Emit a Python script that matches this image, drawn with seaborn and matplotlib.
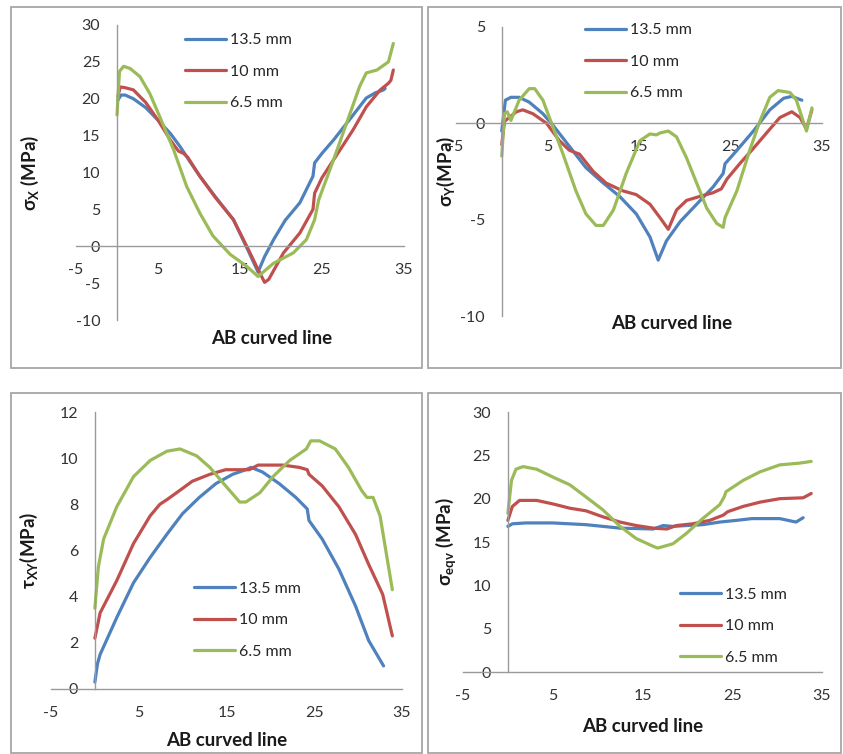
import matplotlib
matplotlib.use('Agg')
import matplotlib.pyplot as plt
import matplotlib.patches as patches
import pandas as pd
import seaborn as sns

sns.set_style('white')
plt.rcParams['font.family'] = ['Lato', 'DejaVu Sans']
plt.rcParams['mathtext.fontset'] = 'custom'
plt.rcParams['mathtext.rm'] = 'Lato'
plt.rcParams['mathtext.bf'] = 'Lato:bold'
plt.rcParams['mathtext.it'] = 'Lato:italic'
plt.rcParams['axes.unicode_minus'] = False

series_names = ['13.5 mm', '10 mm', '6.5 mm']
series_colors = ['#4F81BD', '#C0504D', '#9BBB59']
x_ticks = [-5, 5, 15, 25, 35]

# ---- panel 1: sigma X ----
sx_blue_x = [0.1, 0.5, 1.0, 2.0, 3.5, 5.0, 6.5, 7.7, 9.0, 10.1, 12.0, 14.2, 16.0, 17.2, 18.0,
             19.1, 20.5, 22.3, 23.9, 24.1, 25.0, 26.4, 28.8, 30.4, 31.5, 32.5, 32.7]
sx_blue_y = [19.8, 20.5, 20.5, 20.0, 18.8, 17.1, 15.3, 13.5, 11.3, 9.5, 6.7, 3.6, -0.6, -3.5, -1.4,
             0.9, 3.5, 5.9, 9.5, 11.3, 12.6, 14.4, 17.8, 20.1, 20.8, 21.2, 21.4]
sx_red_x = [0.1, 0.4, 1.0, 2.0, 3.5, 5.0, 6.5, 7.5, 8.1, 8.6, 10.1, 12.0, 14.2, 16.0, 17.0, 18.0,
            18.5, 20.3, 22.3, 23.9, 24.1, 25.0, 26.4, 28.8, 30.4, 32.1, 33.1, 33.4, 33.7]
sx_red_y = [20.3, 21.6, 21.5, 21.2, 19.5, 17.1, 14.4, 12.9, 12.6, 12.1, 9.5, 6.6, 3.6, -0.4, -2.7, -4.9,
            -4.5, -0.9, 1.8, 5.0, 7.2, 9.3, 11.7, 15.8, 18.9, 21.2, 22.1, 22.5, 23.9]
sx_green_x = [0.0, 0.3, 0.8, 1.6, 2.8, 4.0, 5.2, 6.9, 8.5, 10.1, 11.7, 13.8, 15.8, 17.2, 19.1,
              21.5, 23.1, 24.1, 24.6, 26.4, 28.0, 29.6, 30.4, 31.7, 33.1, 33.7]
sx_green_y = [17.8, 23.7, 24.4, 24.1, 23.0, 20.7, 17.6, 13.1, 8.1, 4.5, 1.4, -1.1, -2.7, -4.1, -2.3,
              -0.9, 0.9, 3.6, 6.3, 11.7, 16.7, 21.7, 23.5, 23.9, 25.0, 27.5]

# ---- panel 2: sigma Y ----
sy_blue_x = [0.0, 0.4, 1.0, 1.9, 3.0, 4.5, 5.6, 7.4, 9.2, 11.1, 12.9, 14.7, 16.2, 17.1, 18.0, 19.5,
             21.3, 23.1, 24.2, 24.4, 25.7, 27.5, 29.3, 30.8, 31.7, 32.8]
sy_blue_y = [-0.4, 1.2, 1.35, 1.35, 1.1, 0.5, -0.1, -1.2, -2.3, -3.1, -3.8, -4.7, -5.9, -7.1, -6.1, -5.1,
             -4.2, -3.3, -2.6, -2.1, -1.4, -0.4, 0.7, 1.3, 1.4, 1.2]
sy_red_x = [0.0, 0.3, 0.8, 1.6, 2.3, 3.4, 4.9, 6.3, 7.4, 8.5, 10.0, 11.4, 13.2, 14.7, 16.2, 17.3,
            18.2, 19.1, 20.2, 21.6, 23.1, 24.0, 24.6, 26.0, 27.5, 29.3, 30.4, 31.7, 32.6, 33.3, 33.9]
sy_red_y = [-1.1, 0.1, 0.3, 0.6, 0.7, 0.5, 0.0, -0.9, -1.4, -1.6, -2.5, -3.1, -3.5, -3.7, -4.2, -4.9,
            -5.5, -4.5, -4.0, -3.8, -3.6, -3.4, -2.9, -2.1, -1.3, -0.3, 0.3, 0.6, 0.3, -0.3, 0.7]
sy_green_x = [0.0, 0.3, 0.6, 1.0, 1.9, 3.0, 3.6, 4.5, 5.6, 6.7, 8.1, 9.2, 10.3, 11.1, 12.2, 13.6,
              15.1, 16.2, 16.9, 17.3, 18.2, 19.1, 20.2, 21.3, 22.4, 23.5, 24.2, 24.4, 25.7, 27.1,
              28.2, 29.3, 30.2, 31.5, 32.2, 33.3, 33.9]
sy_green_y = [-1.7, 0.5, 0.6, 0.15, 1.2, 1.8, 1.8, 1.2, -0.2, -1.6, -3.5, -4.7, -5.3, -5.3, -4.5, -2.6,
              -0.9, -0.55, -0.6, -0.5, -0.4, -0.7, -1.8, -3.1, -4.4, -5.2, -5.4, -4.9, -3.5, -1.4,
              0.1, 1.35, 1.7, 1.6, 1.2, -0.4, 0.8]

# ---- panel 3: tau XY ----
txy_blue_x = [0.0, 0.3, 0.6, 2.5, 4.4, 6.3, 8.2, 10.0, 11.9, 13.8, 15.7, 17.2, 17.8, 19.1, 21.0,
              22.9, 24.2, 24.4, 25.9, 27.8, 29.7, 31.2, 32.9]
txy_blue_y = [0.3, 1.1, 1.5, 3.1, 4.6, 5.7, 6.7, 7.6, 8.3, 8.9, 9.3, 9.5, 9.6, 9.4, 8.9,
              8.3, 7.8, 7.3, 6.5, 5.2, 3.6, 2.1, 1.0]
txy_red_x = [0.0, 0.6, 2.5, 4.4, 6.3, 7.4, 8.2, 9.3, 11.1, 13.1, 14.9, 17.6, 18.6, 21.4, 23.3,
             24.2, 24.4, 25.9, 27.8, 29.7, 31.2, 32.8, 33.9]
txy_red_y = [2.2, 3.3, 4.7, 6.3, 7.5, 8.0, 8.2, 8.5, 9.0, 9.3, 9.5, 9.5, 9.7, 9.7, 9.6,
             9.5, 9.3, 8.8, 7.9, 6.7, 5.4, 4.1, 2.3]
txy_green_x = [0.0, 0.4, 1.0, 2.5, 4.4, 6.3, 8.2, 9.7, 11.6, 13.1, 14.9, 16.5, 17.2, 18.8, 20.3,
               22.2, 24.1, 24.6, 25.6, 27.4, 28.9, 30.4, 31.0, 31.7, 32.5, 33.2, 33.9]
txy_green_y = [3.5, 5.3, 6.5, 7.9, 9.2, 9.9, 10.3, 10.4, 10.1, 9.6, 8.8, 8.1, 8.1, 8.5, 9.2,
               9.9, 10.4, 10.75, 10.75, 10.4, 9.6, 8.6, 8.3, 8.3, 7.5, 5.9, 4.3]

# ---- panel 4: sigma eqv ----
seqv_blue_x = [0.0, 0.5, 2.0, 5.0, 8.7, 12.5, 16.2, 17.3, 18.4, 19.9, 21.7, 23.6, 25.5, 27.2,
               30.3, 32.1, 32.9]
seqv_blue_y = [16.8, 17.1, 17.2, 17.2, 17.0, 16.6, 16.5, 16.9, 16.8, 16.9, 17.0, 17.3, 17.5, 17.7,
               17.7, 17.3, 17.8]
seqv_red_x = [0.0, 0.5, 1.3, 3.2, 5.0, 6.9, 8.7, 10.6, 12.5, 14.3, 16.2, 17.7, 18.8, 20.6, 22.5,
              24.0, 24.5, 26.2, 28.1, 30.3, 32.9, 33.8]
seqv_red_y = [17.5, 19.1, 19.8, 19.8, 19.4, 18.9, 18.6, 17.9, 17.3, 16.9, 16.6, 16.5, 16.9, 17.1, 17.5,
              18.1, 18.5, 19.1, 19.6, 20.0, 20.1, 20.6]
seqv_green_x = [0.0, 0.4, 0.9, 1.7, 3.2, 5.0, 6.9, 8.7, 10.6, 12.5, 14.3, 16.2, 16.7, 18.4, 19.9,
                21.7, 23.6, 24.1, 24.3, 26.2, 28.1, 30.3, 32.5, 33.8]
seqv_green_y = [18.3, 22.1, 23.4, 23.7, 23.4, 22.5, 21.6, 20.2, 18.7, 16.8, 15.4, 14.5, 14.3, 14.8, 16.0,
                17.7, 19.3, 20.2, 20.8, 22.1, 23.1, 23.9, 24.1, 24.3]

W, H = 843, 754
fig = plt.figure(figsize=(W / 100, H / 100), dpi=100)


def fx(px):
    return px / W


def fy(py):
    return 1 - py / H


# panel frames (pixel boxes: left, top, right, bottom)
frames = [(11, 7, 422, 368), (428, 7, 841, 368), (11, 393, 422, 753), (428, 393, 841, 753)]
for l, t, r, b in frames:
    fig.add_artist(patches.Rectangle((fx(l), fy(b)), fx(r - l), (b - t) / H, transform=fig.transFigure,
                                     fill=False, edgecolor='#a6a6a6', linewidth=1.3))

panels = [
    dict(area=(76, 25, 404, 320), ylim=(-10, 30), yticks=range(-10, 31, 5),
         xs=[sx_blue_x, sx_red_x, sx_green_x], ys=[sx_blue_y, sx_red_y, sx_green_y],
         ylabel='σ$_{\\mathbf{X}}$ (MPa)', ylab=-0.107, xlab=(0.598, -0.034), leg=(0.332, 0.972)),
    dict(area=(456, 27, 822, 316), ylim=(-10, 5), yticks=range(-10, 6, 5),
         xs=[sy_blue_x, sy_red_x, sy_green_x], ys=[sy_blue_y, sy_red_y, sy_green_y],
         ylabel='σ$_{\\mathbf{Y}}$(MPa)', ylab=0.003, xlab=(0.59, 0.003), leg=(0.352, 1.013)),
    dict(area=(51, 412, 402, 689), ylim=(0, 12), yticks=range(0, 13, 2),
         xs=[txy_blue_x, txy_red_x, txy_green_x], ys=[txy_blue_y, txy_red_y, txy_green_y],
         ylabel='τ$_{\\mathbf{XY}}$(MPa)', ylab=-0.031, xlab=(0.50, -0.155), leg=(0.407, 0.388)),
    dict(area=(463, 412, 822, 672), ylim=(0, 30), yticks=range(0, 31, 5),
         xs=[seqv_blue_x, seqv_red_x, seqv_green_x], ys=[seqv_blue_y, seqv_red_y, seqv_green_y],
         ylabel='σ$_{\\mathbf{eqv}}$ (MPa)', ylab=-0.014, xlab=(0.50, -0.177), leg=(0.604, 0.325)),
]

for p in panels:
    l, t, r, b = p['area']
    ax = fig.add_axes([fx(l), fy(b), fx(r - l), (b - t) / H])
    ax.set_facecolor('none')

    frames_df = []
    for name, xv, yv in zip(series_names, p['xs'], p['ys']):
        frames_df.append(pd.DataFrame({'x': xv, 'y': yv, 'series': name}))
    df = pd.concat(frames_df, ignore_index=True)
    sns.lineplot(data=df, x='x', y='y', hue='series', hue_order=series_names,
                 palette=series_colors, sort=False, estimator=None, linewidth=2.3,
                 legend=False, ax=ax)

    ax.set_xlim(-5, 35)
    ax.set_ylim(*p['ylim'])
    ax.set_xticks(x_ticks)
    ax.set_yticks(list(p['yticks']))
    for side in ['top', 'right']:
        ax.spines[side].set_visible(False)
    ax.spines['left'].set_position(('data', 0))
    ax.spines['bottom'].set_position(('data', 0))
    for side in ['left', 'bottom']:
        ax.spines[side].set_color('#9a9a9a')
        ax.spines[side].set_linewidth(1.0)
    ax.tick_params(axis='both', length=0, pad=12, labelsize=11.5, colors='#333333')

    ax.set_xlabel('AB curved line', fontsize=13.5, fontweight='bold', color='#1a1a1a')
    ax.set_ylabel(p['ylabel'], fontsize=13.5, fontweight='bold', color='#1a1a1a')
    ax.xaxis.set_label_coords(*p['xlab'])
    ax.yaxis.set_label_coords(p['ylab'], 0.5)

    ax.legend(ax.lines[:3], series_names, loc='upper left', bbox_to_anchor=p['leg'],
              frameon=False, fontsize=11.5, handlelength=2.6, handletextpad=0.2,
              labelspacing=1.08, borderpad=0, borderaxespad=0)

fig.savefig('out.png', dpi=100)
